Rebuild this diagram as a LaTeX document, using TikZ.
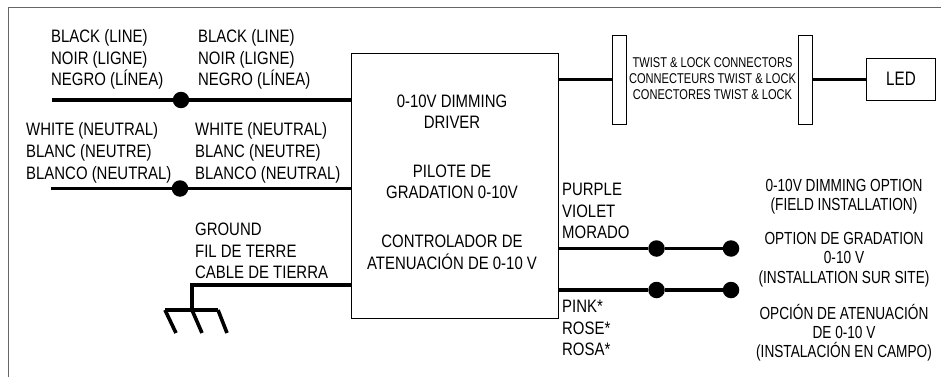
\documentclass[tikz,border=0pt]{standalone}
\usepackage{fontspec}
\setmainfont[FakeStretch=0.83]{Liberation Sans}
\newfontfamily\narrowfont[FakeStretch=0.78]{Liberation Sans}
\usetikzlibrary{positioning}
\tikzset{wirelabel/.style={inner sep=0pt, align=left, anchor=west, font=\fontsize{18}{21.8}\selectfont}}
\tikzset{drivertext/.style={inner sep=0pt, align=center, font=\fontsize{18}{21.5}\selectfont}}
\tikzset{optiontext/.style={inner sep=0pt, align=center, font=\narrowfont\fontsize{17.5}{19.4}\selectfont}}
\tikzset{twisttext/.style={inner sep=0pt, align=center, font=\narrowfont\fontsize{14.2}{16}\selectfont}}
\tikzset{wire/.style={line width=3.6pt}}
\tikzset{thinbox/.style={draw, line width=0.8pt, inner sep=0pt}}
\tikzset{joint/.style={circle, fill=black, inner sep=0pt, minimum size=16.5pt}}
\begin{document}
\begin{tikzpicture}[x=1pt, y=-1pt]
\useasboundingbox (0,0) rectangle (941,377);

\draw[black!60, line width=1pt] (8.5,377) -- (8.5,8) -- (941,8);

\node[thinbox, minimum width=207pt, minimum height=265pt] (driver) at (455,185.5) {};
\node[thinbox, minimum width=14pt, minimum height=89pt] (twistA) at (619,79.5) {};
\node[thinbox, minimum width=14pt, minimum height=89pt] (twistB) at (805.5,79.5) {};
\node[thinbox, minimum width=69pt, minimum height=42pt, font=\narrowfont\fontsize{19.5}{22}\selectfont] (led) at (901,79) {LED};

\node[joint] (blackJoint) at (181,100) {};
\node[joint] (whiteJoint) at (180,188.5) {};
\node[joint] (purpleJoint) at (656.5,248.5) {};
\node[joint] (purpleEnd) at (731,248.5) {};
\node[joint] (pinkJoint) at (656.5,290) {};
\node[joint] (pinkEnd) at (731,290) {};

\coordinate (blackStart) at (52,100);
\coordinate (whiteStart) at (51,188.5);
\coordinate (groundTop) at (192,285);
\coordinate (groundBar) at (192,310);
\coordinate (groundL) at (165,310);
\coordinate (groundR) at (218,310);

\draw[wire] (blackStart) -- (blackJoint) -- (blackJoint -| driver.west);
\draw[wire] (whiteStart) -- (whiteJoint) -- (whiteJoint -| driver.west);
\draw[wire] (groundBar) -- (groundTop) -- (groundTop -| driver.west);
\draw[wire] (groundL) -- (groundR);
\draw[wire] (groundL) -- ++(11,23);
\draw[wire] (groundBar) -- ++(10,23);
\draw[wire] (groundR) -- ++(9,23);
\draw[wire] (purpleJoint -| driver.east) -- (purpleJoint) -- (purpleEnd);
\draw[wire] (pinkJoint -| driver.east) -- (pinkJoint) -- (pinkEnd);
\draw[wire] (driver.east |- twistA.west) -- (twistA.west);
\draw[wire] (twistB.east) -- (twistB.east -| led.west);

\node[wirelabel] (blackLeft) at (51,59.5) {BLACK (LINE)\\NOIR (LIGNE)\\NEGRO (LÍNEA)};
\node[wirelabel] (blackRight) at (198,59.5) {BLACK (LINE)\\NOIR (LIGNE)\\NEGRO (LÍNEA)};
\node[wirelabel] (whiteLeft) at (26,153) {WHITE (NEUTRAL)\\BLANC (NEUTRE)\\BLANCO (NEUTRAL)};
\node[wirelabel] (whiteRight) at (195,153) {WHITE (NEUTRAL)\\BLANC (NEUTRE)\\BLANCO (NEUTRAL)};
\node[wirelabel] (groundLabel) at (195,251) {GROUND\\FIL DE TERRE\\CABLE DE TIERRA};
\node[wirelabel] (purpleLabel) at (562,211) {PURPLE\\VIOLET\\MORADO};
\node[wirelabel] (pinkLabel) at (562,328) {PINK*\\ROSE*\\ROSA*};

\node[drivertext] (driverEn) at (452,111.7) {0-10V DIMMING\\DRIVER};
\node[drivertext] (driverFr) at (452,182) {PILOTE DE\\GRADATION 0-10V};
\node[drivertext] (driverEs) at (452,252.5) {CONTROLADOR DE\\ATENUACIÓN DE 0-10 V};

\node[twisttext] (twistLabel) at (712.5,79) {TWIST \& LOCK CONNECTORS\\CONNECTEURS TWIST \& LOCK\\CONECTORES TWIST \& LOCK};

\node[optiontext] (optionEn) at (844,196.5) {0-10V DIMMING OPTION\\(FIELD INSTALLATION)};
\node[optiontext] (optionFr) at (844,259.5) {OPTION DE GRADATION\\0-10 V\\(INSTALLATION SUR SITE)};
\node[optiontext] (optionEs) at (844,332.7) {OPCIÓN DE ATENUACIÓN\\DE 0-10 V\\(INSTALACIÓN EN CAMPO)};

\end{tikzpicture}
\end{document}
